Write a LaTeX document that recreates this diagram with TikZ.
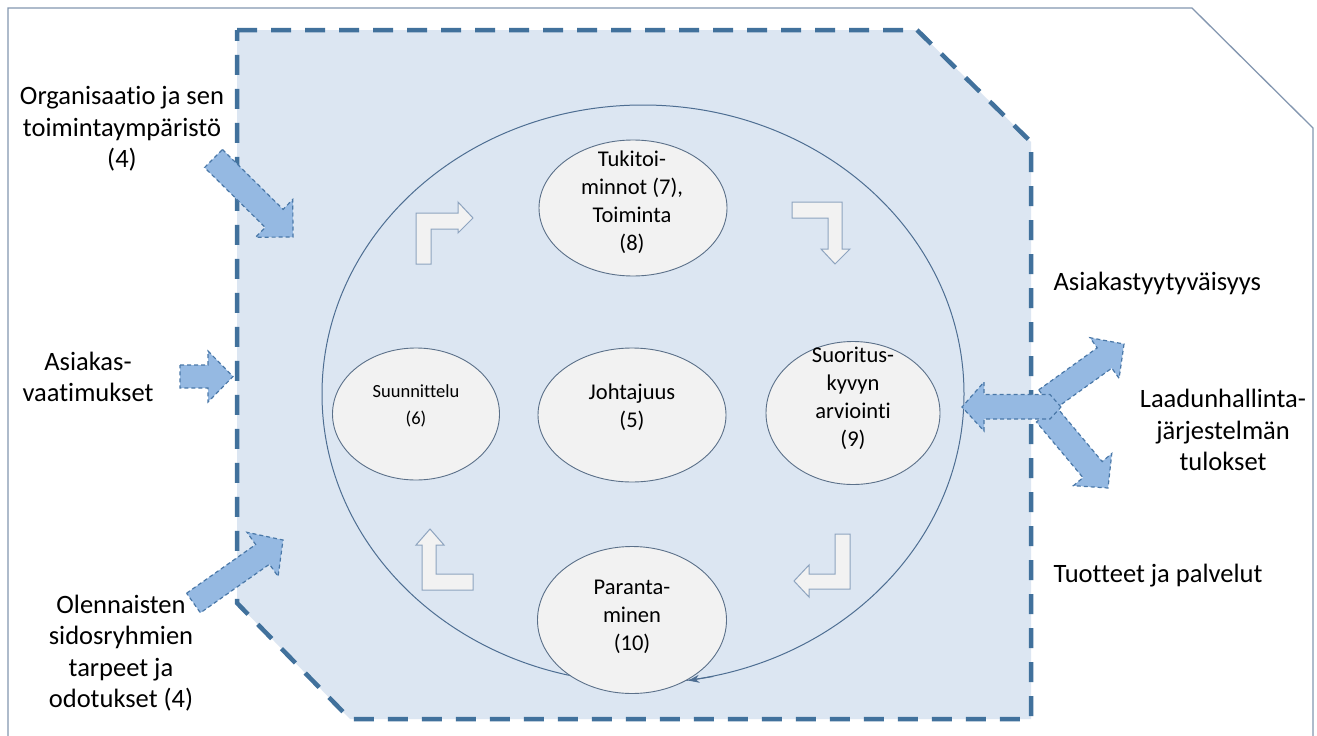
\documentclass[tikz,border=0pt]{standalone}
\usepackage{fontspec}
\setmainfont{Carlito}[Ligatures=NoCommon]
\usetikzlibrary{calc,shapes.geometric,arrows.meta}

\definecolor{regionfill}{HTML}{DCE6F2}
\definecolor{regiondash}{HTML}{41719C}
\definecolor{framecol}{HTML}{8497B0}
\definecolor{ellfill}{HTML}{F2F2F2}
\definecolor{ellstroke}{HTML}{5B7089}
\definecolor{loopcol}{HTML}{4E6E92}
\definecolor{bentstroke}{HTML}{8EA4BF}
\definecolor{inflow}{HTML}{95B9E2}
\definecolor{inflowline}{HTML}{4A78A8}

\tikzset{
  bubble/.style={ellipse, draw=ellstroke, fill=ellfill, line width=0.9pt, inner sep=0pt},
  intext/.style={align=center, font=\fontsize{22.5}{28}\selectfont},
  smalltext/.style={align=center, font=\fontsize{18.5}{27}\selectfont},
  lbl/.style={align=center, font=\fontsize{26.5}{31.5}\selectfont},
  lblleft/.style={anchor=west, font=\fontsize{26.5}{31.5}\selectfont},
  inarrow/.style={fill=inflow, draw=inflowline, line width=1.2pt, dash pattern=on 4pt off 3pt, line join=miter},
  bentarrow/.style={fill=ellfill, draw=bentstroke, line width=1pt, line join=miter},
}

% block arrow: tail, tip, shaft half width, head half width, head length
\newcommand\blockarr[5]{%
  \path ($(#2)!#5!(#1)$) coordinate (hb);
  \filldraw[inarrow]
    ($(#1)!#3!90:(#2)$) -- ($(hb)!#3!90:(#2)$) -- ($(hb)!#4!90:(#2)$) -- (#2)
    -- ($(hb)!#4!-90:(#2)$) -- ($(hb)!#3!-90:(#2)$) -- ($(#1)!#3!-90:(#2)$) -- cycle;
}

\begin{document}
\begin{tikzpicture}[x=1pt, y=-1pt]
\useasboundingbox (0,0) rectangle (1317,736);
\fill[white] (0,0) rectangle (1317,736);

% outer frame
\draw[framecol, line width=1.3pt] (8,736) -- (8,8) -- (1192,8) -- (1313,128) -- (1313,736);

% dashed system boundary
\fill[regionfill] (237,30) -- (917,30) -- (1031,142) -- (1031,719) -- (350,719) -- (237,603) -- cycle;
\draw[regiondash, line width=4.5pt, dash pattern=on 20pt off 14pt]
  (237,30) -- (917,30) -- (1031,142) -- (1031,719) -- (350,719) -- (237,603) -- cycle;

% process loop
\node[ellipse, draw=loopcol, line width=1pt, minimum width=642pt, minimum height=578pt, inner sep=0pt] (loop) at (643,394) {};

% process stages
\node[bubble, minimum width=188pt, minimum height=136pt] (support) at (633,208) {};
\node[intext] at ($(support.center)+(-1,-6)$) {Tukitoi-\\minnot (7),\\Toiminta\\(8)};

\node[bubble, minimum width=167pt, minimum height=132pt] (plan) at (416,414) {};
\node[smalltext] at ($(plan.center)+(0,-8)$) {Suunnittelu\\(6)};

\node[bubble, minimum width=188pt, minimum height=134pt] (lead) at (632,415) {};
\node[intext] at ($(lead.center)+(0,-8)$) {Johtajuus\\(5)};

\node[bubble, minimum width=174pt, minimum height=143pt] (perf) at (853,413) {};
\node[intext] at ($(perf.center)+(0,-15)$) {Suoritus-\\kyvyn\\arviointi\\(9)};

\node[bubble, minimum width=189pt, minimum height=147pt] (improve) at (632,620) {};
\node[intext] at ($(improve.center)+(0,-3)$) {Paranta-\\minen\\(10)};

% arrow head on the loop
\draw[loopcol, line width=1pt, -{Stealth[length=11pt, width=8pt]}] (loop.-76) -- (loop.-81.5);

% bent arrows showing the direction of the cycle
\filldraw[bentarrow] (416,264) -- (416,213) -- (458,213) -- (458,202) -- (473,218) -- (458,233) -- (458,229) -- (431,229) -- (431,264) -- cycle;
\filldraw[bentarrow] (792,202) -- (842,202) -- (842,249) -- (850,249) -- (835,264) -- (821,249) -- (828,249) -- (828,218) -- (792,218) -- cycle;
\filldraw[bentarrow] (850,534) -- (850,589) -- (809,589) -- (809,597) -- (794,581) -- (809,565) -- (809,574) -- (835,574) -- (835,534) -- cycle;
\filldraw[bentarrow] (422,590) -- (473,590) -- (473,574) -- (436,574) -- (436,545) -- (444,545) -- (430,529) -- (416,545) -- (422,545) -- cycle;

% inputs
\node[lbl] (org) at (122,129) {Organisaatio ja sen\\toimintaympäristö\\(4)};
\node[lbl] (req) at (88,377) {Asiakas-\\vaatimukset};
\node[lbl] (stake) at (121,653) {Olennaisten\\sidosryhmien\\tarpeet ja\\odotukset (4)};

\coordinate (orgT) at (213.5,158.5);  \coordinate (orgH) at (293,237);
\coordinate (reqT) at (180,376.5);    \coordinate (reqH) at (233,376.5);
\coordinate (stkT) at (193.5,603);    \coordinate (stkH) at (283,540);
\blockarr{orgT}{orgH}{12.7pt}{26.5pt}{26.5pt}
\blockarr{reqT}{reqH}{11.5pt}{25.5pt}{25pt}
\blockarr{stkT}{stkH}{12pt}{27pt}{25pt}

% outputs
\node[lblleft] (sat) at (1050,283) {Asiakastyytyväisyys};
\node[lbl] (qms) at (1223,430) {Laadunhallinta-\\järjestelmän\\tulokset};
\node[lblleft] (prod) at (1050,576) {Tuotteet ja palvelut};

\coordinate (upT) at (1046,400);  \coordinate (upH) at (1124,344);
\coordinate (dnT) at (1046,414);  \coordinate (dnH) at (1108,488);
\blockarr{upT}{upH}{12.5pt}{25pt}{24pt}
\blockarr{dnT}{dnH}{12.5pt}{25pt}{24pt}
\filldraw[inarrow] (1061,407) -- (1050,394.5) -- (984,394.5) -- (984,382) -- (962,407)
  -- (984,431) -- (984,419) -- (1050,419) -- cycle;
\end{tikzpicture}
\end{document}
